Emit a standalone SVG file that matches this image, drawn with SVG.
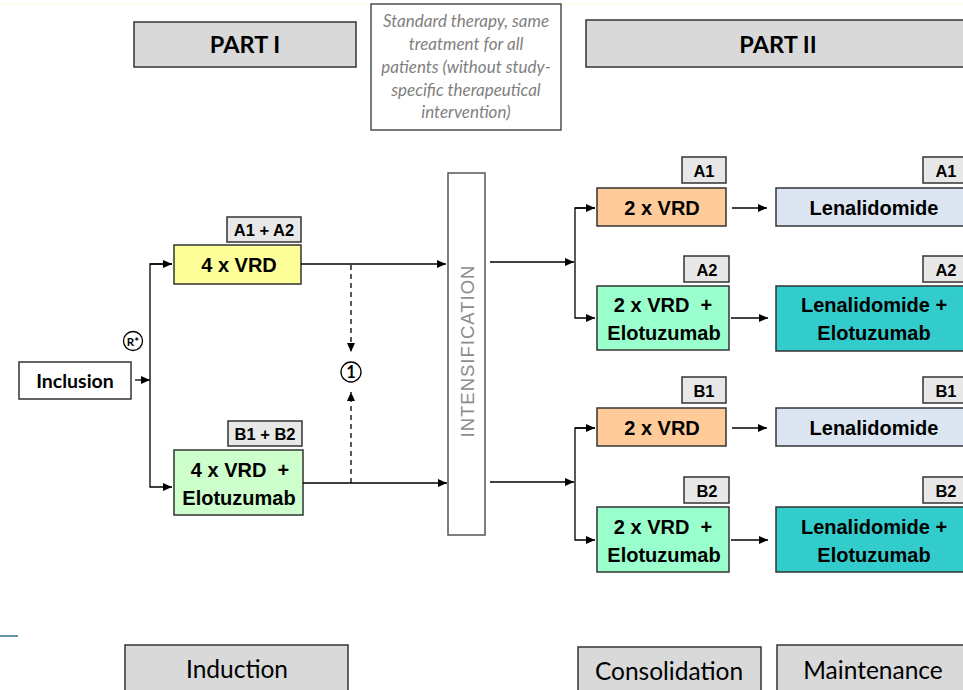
<svg xmlns="http://www.w3.org/2000/svg" width="963" height="690" viewBox="0 0 963 690">
<defs>
<marker id="ah" markerWidth="9" markerHeight="8" refX="9" refY="4" orient="auto" markerUnits="userSpaceOnUse">
<path d="M0,0 L9,4 L0,8 z" fill="#000"/>
</marker>
</defs>
<style>
.hdr{fill:#d9d9d9;stroke:#333;stroke-width:1.5}
.lbl{fill:#e8e8e8;stroke:#333;stroke-width:1.5}
.bx{stroke:#333;stroke-width:1.5}
.cal{font-family:Lato,"Open Sans","Liberation Sans",sans-serif}
.ar{font-family:"Liberation Sans",Arial,sans-serif;font-weight:bold;fill:#000}
.ln{stroke:#000;stroke-width:1.3;fill:none}
.lt{font-size:16.5px}
.bt{font-size:20px}
</style>
<rect width="963" height="690" fill="#fff"/>
<line x1="0" y1="4" x2="963" y2="4" stroke="#fbfbe8" stroke-width="1"/>
<line x1="0" y1="636" x2="18" y2="636" stroke="#2e6e8e" stroke-width="1.5"/>

<g id="part1">
<rect class="hdr" x="134" y="22" width="222" height="45"/>
<text class="cal" x="245" y="53" font-size="23.5" font-weight="bold" text-anchor="middle" fill="#000">PART I</text>
</g>
<g id="standard">
<rect x="371" y="4" width="190" height="126" fill="#fff" stroke="#333" stroke-width="1.3"/>
<g class="cal" font-size="17" font-style="italic" fill="#7f7f7f" text-anchor="middle">
<text x="466" y="27">Standard therapy, same</text>
<text x="466" y="50">treatment for all</text>
<text x="466" y="73">patients (without study-</text>
<text x="466" y="96">specific therapeutical</text>
<text x="466" y="118">intervention)</text>
</g>
</g>
<g id="part2">
<rect class="hdr" x="586" y="20" width="390" height="47"/>
<text class="cal" x="778" y="53" font-size="23.5" font-weight="bold" text-anchor="middle" fill="#000">PART II</text>
</g>

<g id="inclusion">
<rect x="19" y="362" width="112" height="37" fill="#fff" stroke="#333" stroke-width="1.5"/>
<text class="cal" x="75" y="388" font-size="19.5" font-weight="bold" text-anchor="middle" fill="#000">Inclusion</text>
</g>
<g id="rstar">
<circle cx="133" cy="341" r="9.5" fill="#fff" stroke="#000" stroke-width="1.3"/>
<text class="cal" x="133" y="345.5" font-size="11.5" font-weight="bold" text-anchor="middle" fill="#000">R*</text>
</g>

<g id="ind-a">
<rect class="lbl" x="227" y="217" width="74" height="25"/>
<text class="ar lt" x="264" y="235.5" text-anchor="middle">A1 + A2</text>
<rect class="bx" x="174" y="245" width="127" height="39" fill="#ffff99"/>
<text class="ar bt" x="239" y="272" text-anchor="middle">4 x VRD</text>
</g>
<g id="ind-b">
<rect class="lbl" x="228" y="421" width="74" height="25"/>
<text class="ar lt" x="265" y="439.5" text-anchor="middle">B1 + B2</text>
<rect class="bx" x="174" y="450" width="129" height="65" fill="#ccffcc"/>
<text class="ar bt" x="240" y="477" text-anchor="middle">4 x VRD&#160; +</text>
<text class="ar bt" x="239" y="505" text-anchor="middle">Elotuzumab</text>
</g>
<g id="circle1">
<circle cx="351" cy="372" r="10" fill="#fff" stroke="#000" stroke-width="1.3"/>
<text class="cal" x="351" y="378" font-size="16.5" font-weight="bold" text-anchor="middle" fill="#000">1</text>
</g>
<g id="intens">
<rect x="448" y="173" width="37" height="362" fill="#fff" stroke="#555" stroke-width="1.5"/>
<text x="473.5" y="351" font-family="'Liberation Sans',Arial,sans-serif" font-size="18.5" fill="#8c8c8c" text-anchor="middle" letter-spacing="1" transform="rotate(-90 473.5 351)">INTENSIFICATION</text>
</g>

<g id="a1-cons">
<rect class="lbl" x="682" y="157" width="44" height="26"/>
<text class="ar lt" x="704" y="176.5" text-anchor="middle">A1</text>
<rect class="bx" x="597" y="188" width="129" height="38" fill="#ffcc99"/>
<text class="ar bt" x="662" y="215" text-anchor="middle">2 x VRD</text>
</g>
<g id="a1-maint">
<rect class="lbl" x="923" y="157" width="45" height="26"/>
<text class="ar lt" x="946" y="176.5" text-anchor="middle">A1</text>
<rect class="bx" x="776" y="188" width="195" height="38" fill="#dce6f2"/>
<text class="ar bt" x="874" y="215" text-anchor="middle" font-size="20.5">Lenalidomide</text>
</g>
<g id="a2-cons">
<rect class="lbl" x="684" y="256" width="45" height="26"/>
<text class="ar lt" x="707" y="275.5" text-anchor="middle">A2</text>
<rect class="bx" x="597" y="286" width="132" height="64" fill="#99ffcc"/>
<text class="ar bt" x="663" y="312" text-anchor="middle">2 x VRD&#160; +</text>
<text class="ar bt" x="664" y="340" text-anchor="middle">Elotuzumab</text>
</g>
<g id="a2-maint">
<rect class="lbl" x="923" y="256" width="45" height="26"/>
<text class="ar lt" x="946" y="275.5" text-anchor="middle">A2</text>
<rect class="bx" x="776" y="286" width="195" height="65" fill="#33cccc"/>
<text class="ar bt" x="874" y="312" text-anchor="middle" font-size="20.5">Lenalidomide +</text>
<text class="ar bt" x="874" y="340" text-anchor="middle" font-size="20.5">Elotuzumab</text>
</g>
<g id="b1-cons">
<rect class="lbl" x="682" y="377" width="44" height="26"/>
<text class="ar lt" x="704" y="396.5" text-anchor="middle">B1</text>
<rect class="bx" x="597" y="408" width="129" height="38" fill="#ffcc99"/>
<text class="ar bt" x="662" y="435" text-anchor="middle">2 x VRD</text>
</g>
<g id="b1-maint">
<rect class="lbl" x="923" y="377" width="45" height="26"/>
<text class="ar lt" x="946" y="396.5" text-anchor="middle">B1</text>
<rect class="bx" x="776" y="408" width="195" height="38" fill="#dce6f2"/>
<text class="ar bt" x="874" y="435" text-anchor="middle" font-size="20.5">Lenalidomide</text>
</g>
<g id="b2-cons">
<rect class="lbl" x="684" y="477" width="45" height="26"/>
<text class="ar lt" x="707" y="496.5" text-anchor="middle">B2</text>
<rect class="bx" x="597" y="507" width="132" height="65" fill="#99ffcc"/>
<text class="ar bt" x="663" y="534" text-anchor="middle">2 x VRD&#160; +</text>
<text class="ar bt" x="664" y="562" text-anchor="middle">Elotuzumab</text>
</g>
<g id="b2-maint">
<rect class="lbl" x="923" y="477" width="45" height="26"/>
<text class="ar lt" x="946" y="496.5" text-anchor="middle">B2</text>
<rect class="bx" x="776" y="507" width="195" height="65" fill="#33cccc"/>
<text class="ar bt" x="874" y="534" text-anchor="middle" font-size="20.5">Lenalidomide +</text>
<text class="ar bt" x="874" y="562" text-anchor="middle" font-size="20.5">Elotuzumab</text>
</g>

<g id="induction">
<rect class="hdr" x="125" y="645" width="223" height="50"/>
<text class="cal" x="237" y="678" font-size="24.5" text-anchor="middle" fill="#000">Induction</text>
</g>
<g id="consolidation">
<rect class="hdr" x="578" y="647" width="183" height="48"/>
<text class="cal" x="669" y="680" font-size="24.5" text-anchor="middle" fill="#000">Consolidation</text>
</g>
<g id="maintenance">
<rect class="hdr" x="777" y="645" width="195" height="50"/>
<text class="cal" x="873" y="679" font-size="24.5" text-anchor="middle" fill="#000">Maintenance</text>
</g>

<g id="connectors">
<line class="ln" x1="135" y1="380" x2="150" y2="380" marker-end="url(#ah)"/>
<polyline class="ln" points="172,264 150,264 150,487 172,487" marker-end="url(#ah)"/>
<line class="ln" x1="150" y1="264" x2="172" y2="264" marker-end="url(#ah)"/>
<line class="ln" x1="301" y1="264" x2="446" y2="264" marker-end="url(#ah)"/>
<line class="ln" x1="303" y1="483" x2="447" y2="483" marker-end="url(#ah)"/>
<line class="ln" x1="351" y1="265" x2="351" y2="352" stroke-dasharray="5,4" marker-end="url(#ah)"/>
<line class="ln" x1="351" y1="483" x2="351" y2="392" stroke-dasharray="5,4" marker-end="url(#ah)"/>
<line class="ln" x1="490" y1="262" x2="574" y2="262" marker-end="url(#ah)"/>
<polyline class="ln" points="595,208 575,208 575,318 595,318" marker-end="url(#ah)"/>
<line class="ln" x1="575" y1="208" x2="595" y2="208" marker-end="url(#ah)"/>
<line class="ln" x1="490" y1="482" x2="574" y2="482" marker-end="url(#ah)"/>
<polyline class="ln" points="595,428 575,428 575,540 595,540" marker-end="url(#ah)"/>
<line class="ln" x1="575" y1="428" x2="595" y2="428" marker-end="url(#ah)"/>
<line class="ln" x1="732" y1="208" x2="767" y2="208" marker-end="url(#ah)"/>
<line class="ln" x1="731" y1="318" x2="768" y2="318" marker-end="url(#ah)"/>
<line class="ln" x1="732" y1="428" x2="767" y2="428" marker-end="url(#ah)"/>
<line class="ln" x1="731" y1="540" x2="768" y2="540" marker-end="url(#ah)"/>
</g>
</svg>
